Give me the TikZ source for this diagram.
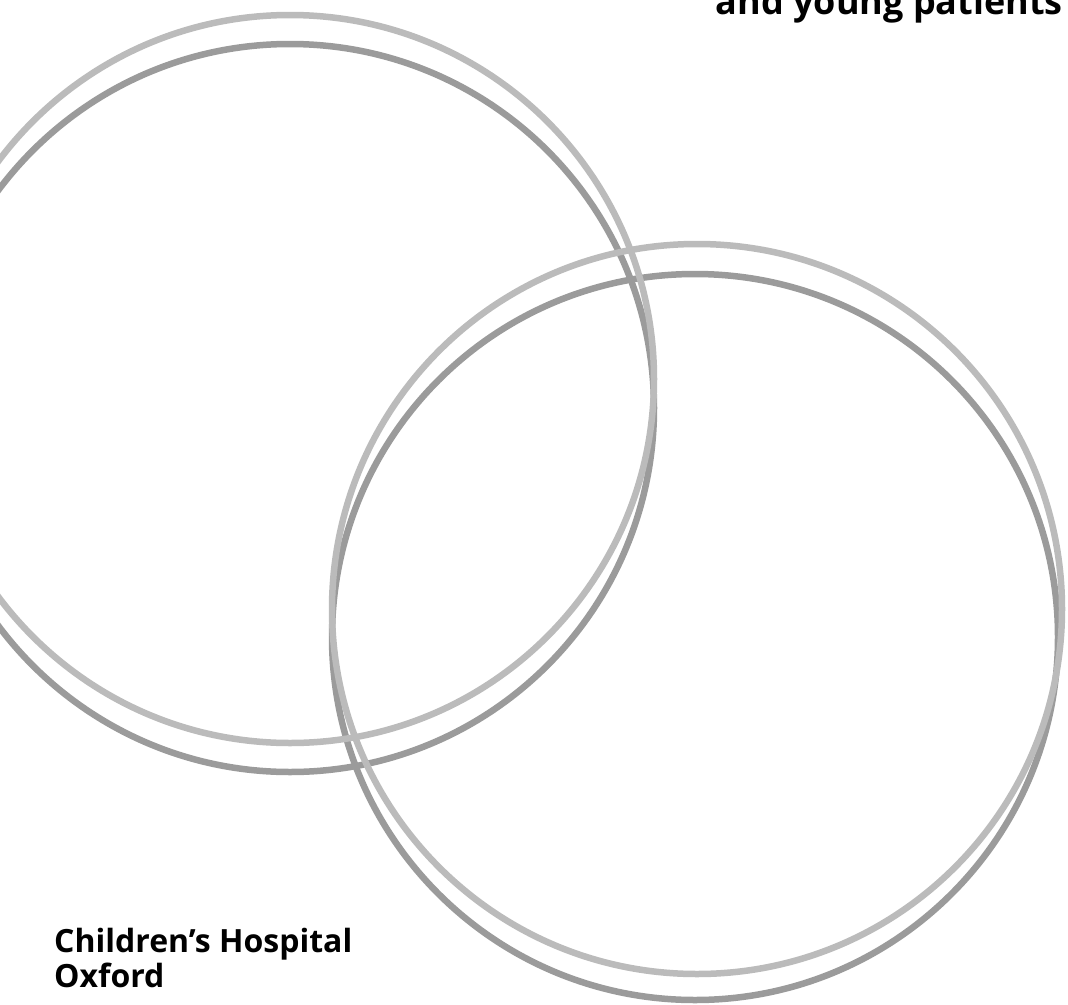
\documentclass[tikz,border=0pt]{standalone}
\usepackage{fontspec}
\setmainfont{Open Sans}
\definecolor{ringlight}{HTML}{BBBBBB}
\definecolor{ringdark}{HTML}{9B9B9B}
\begin{document}
\begin{tikzpicture}[x=1bp,y=-1bp,
  ring/.style={line width=6.5bp},
  title/.style={font=\bfseries\fontsize{36bp}{40bp}\selectfont, inner sep=0pt, text=black},
  label/.style={font=\bfseries\fontsize{32bp}{35.5bp}\selectfont, inner sep=0pt, text=black}]
\useasboundingbox (0,0) rectangle (1068,1005);
\clip (0,0) rectangle (1068,1005);
% dark rings first
\draw[ring, ringdark] (290,408) circle[radius=364];
\draw[ring, ringdark] (695,637) circle[radius=363];
% light rings on top
\draw[ring, ringlight] (290,379) circle[radius=364];
\draw[ring, ringlight] (697,609) circle[radius=365];
% texts
\node[title, anchor=base east] (top) at (1063,14) {and young patients};
\node[label, anchor=base west, align=left] (hosp) at (54,987.5) {Children’s Hospital\\Oxford};
\end{tikzpicture}
\end{document}
